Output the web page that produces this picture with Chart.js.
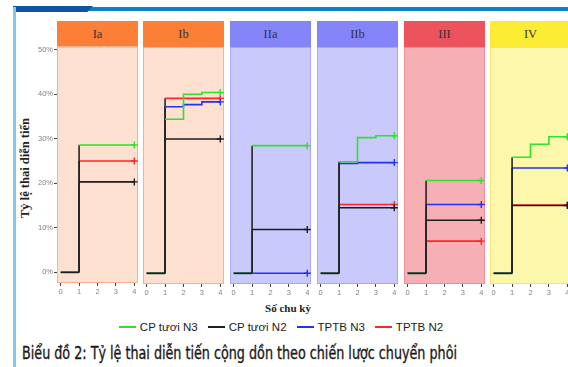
<!DOCTYPE html>
<html>
<head>
<meta charset="utf-8">
<script src="https://cdn.jsdelivr.net/npm/chart.js@4"></script>
<style>
  html,body{margin:0;padding:0;background:#fff;}
  #wrap{position:relative;width:568px;height:367px;overflow:hidden;background:#fff;}
  .abs{position:absolute;}
  .hdr{position:absolute;top:21px;height:26px;line-height:26px;text-align:center;font-family:"Liberation Serif","Times New Roman",serif;font-size:12.5px;color:#333;box-sizing:border-box;}
  canvas{position:absolute;}
  #legend{position:absolute;top:319px;left:0;width:562px;height:16px;display:flex;justify-content:center;align-items:center;font-family:"Liberation Sans",Arial,sans-serif;font-size:11.5px;color:#222;}
  #legend .it{display:flex;align-items:center;margin:0 5px;}
  #legend .ln{display:inline-block;width:17px;height:1.6px;margin-right:4px;}
  #cap{position:absolute;left:22px;top:342px;font-family:"DejaVu Sans Condensed","Liberation Sans Narrow","DejaVu Sans",sans-serif;font-size:18px;color:#1a1a1a;-webkit-text-stroke:0.35px #1a1a1a;white-space:nowrap;transform-origin:0 50%;}
</style>
</head>
<body>
<div id="wrap">
  <div class="abs" style="left:13px;top:7px;width:555px;height:4px;background:#0d80c6;"></div>
  <div class="abs" style="left:13px;top:6px;width:80px;height:6px;background:#0b55a3;clip-path:polygon(0 0,100% 0,93% 100%,0 100%);"></div>
  <div class="abs" style="left:13px;top:7px;width:2.5px;height:360px;background:#85c4ee;"></div>
  <div id="ytitle" class="abs" style="left:25px;top:168px;width:0;height:0;">
    <div style="position:absolute;transform:translate(-50%,-50%) rotate(-90deg);white-space:nowrap;font-family:'Liberation Serif','Times New Roman',serif;font-weight:bold;font-size:12.5px;color:#222;">Tỷ lệ thai diễn tiến</div>
  </div>
  <div class="abs" style="left:288px;top:308px;width:0;height:0;">
    <div style="position:absolute;transform:translate(-50%,-50%);white-space:nowrap;font-family:'Liberation Serif','Times New Roman',serif;font-weight:bold;font-size:11px;color:#222;">Số chu kỳ</div>
  </div>
  <div id="legend"></div>
  <div id="cap">Biểu đồ 2: Tỷ lệ thai diễn tiến cộng dồn theo chiến lược chuyển phôi</div>
</div>
<script>
// ---------- data ----------
const panels = ['Ia', 'Ib', 'IIa', 'IIb', 'III', 'IV'];
const cycles = [0, 1, 2, 3, 4];
const yTicks = [0, 10, 20, 30, 40, 50];
const seriesNames = ['CP tươi N3', 'CP tươi N2', 'TPTB N3', 'TPTB N2'];
// cumulative rate (%) after cycle 1, 2, 3 (held until cycle 4); null = not shown
const cpTuoiN3 = [[28.6, 28.6, 28.6], [34.5, 40.1, 40.5], [28.6, 28.6, 28.6], [25.0, 30.4, 30.8], [20.8, 20.8, 20.8], [26.0, 28.9, 30.6]];
const cpTuoiN2 = [[20.3, 20.3, 20.3], [30.1, 30.1, 30.1], [9.8, 9.8, 9.8], [14.7, 14.7, 14.7], [11.9, 11.9, 11.9], [15.2, 15.2, 15.2]];
const tptbN3 = [null, [37.3, 37.8, 38.4], [0, 0, 0], [24.6, 24.8, 24.8], [15.4, 15.4, 15.4], [23.6, 23.6, 23.6]];
const tptbN2 = [[25.0, 25.0, 25.0], [39.2, 39.2, 39.2], null, [15.4, 15.4, 15.4], [7.2, 7.2, 7.2], [15.3, 15.3, 15.3]];

// ---------- styles ----------
const lineColors = {'CP tươi N3': '#2fe22f', 'CP tươi N2': '#1e1e1e', 'TPTB N3': '#2233ee', 'TPTB N2': '#ff2626'};
const panelStyle = [
  {hdr: '#fc7f38', bg: '#fde0cf', bd: '#f9b28c'},
  {hdr: '#fc7f38', bg: '#fde0cf', bd: '#f9b28c'},
  {hdr: '#8585f9', bg: '#c9c9fb', bd: '#a8a8f9'},
  {hdr: '#8585f9', bg: '#c9c9fb', bd: '#a8a8f9'},
  {hdr: '#ed535d', bg: '#f6afb5', bd: '#f08d95'},
  {hdr: '#fdec36', bg: '#fdf7ab', bd: '#f6e670'}
];
const panelLeft = [57, 143, 230, 317, 404, 490];
const panelW = 81, plotTop = 47, plotH = 237, xAxisH = 16, yAxisW = 45;
const tickFont = {family: '"Liberation Sans", Arial, sans-serif', size: 7.5};

function stepPoints(levels) {
  const pts = [{x: cycles[0], y: 0}, {x: cycles[1], y: 0}];
  for (let k = 0; k < levels.length; k++) {
    pts.push({x: cycles[k + 1], y: levels[k]});
    pts.push({x: cycles[k + 2], y: levels[k]});
  }
  return pts;
}

const bgPlugin = {
  id: 'panelBg',
  beforeDraw(chart, args, opts) {
    const a = chart.chartArea, c = chart.ctx;
    c.save();
    c.fillStyle = opts.bg;
    c.fillRect(a.left, a.top, a.right - a.left, a.bottom - a.top);
    c.strokeStyle = opts.bd;
    c.lineWidth = 1;
    c.strokeRect(a.left + 0.5, a.top + 0.5, a.right - a.left - 1, a.bottom - a.top - 1);
    c.restore();
  }
};

function makeConfig(i) {
  const st = panelStyle[i];
  const src = [['CP tươi N2', cpTuoiN2[i]], ['CP tươi N3', cpTuoiN3[i]], ['TPTB N3', tptbN3[i]], ['TPTB N2', tptbN2[i]]];
  const datasets = src.filter(s => s[1]).map(([lab, lv]) => {
    const pts = stepPoints(lv);
    const col = lineColors[lab];
    return {
      label: lab,
      data: pts,
      borderColor: col,
      borderWidth: 1.6,
      tension: 0,
      fill: false,
      pointStyle: 'cross',
      pointRadius: ctx => ctx.dataIndex === pts.length - 1 ? 3.5 : 0,
      pointBorderColor: col,
      pointBorderWidth: 1.4,
      pointHoverRadius: 0,
      clip: false,
      segment: {
        borderColor: ctx => (ctx.p0.parsed.x === cycles[1] && ctx.p1.parsed.x === cycles[1]) ? '#262626' : undefined
      }
    };
  });
  return {
    type: 'line',
    data: {datasets},
    options: {
      responsive: false,
      maintainAspectRatio: false,
      animation: false,
      devicePixelRatio: 1,
      events: [],
      layout: {padding: 0, autoPadding: false},
      plugins: {legend: {display: false}, tooltip: {enabled: false}, title: {display: false}, panelBg: {bg: st.bg, bd: st.bd}},
      scales: {
        x: {
          type: 'linear', min: -0.2, max: 4.2,
          afterBuildTicks: ax => { ax.ticks = cycles.map(v => ({value: v})); },
          afterFit: ax => { ax.height = xAxisH; },
          grid: {drawOnChartArea: false, drawTicks: true, tickLength: 3, tickColor: '#444', lineWidth: 1},
          border: {display: false},
          ticks: {padding: 1, color: '#808080', font: tickFont, maxRotation: 0, autoSkip: false, callback: v => String(v)}
        },
        y: {
          display: i === 0,
          type: 'linear', min: -2.4, max: 50.7,
          afterBuildTicks: ax => { ax.ticks = yTicks.map(v => ({value: v})); },
          afterFit: ax => { ax.width = i === 0 ? yAxisW : 0; },
          grid: {drawOnChartArea: false, drawTicks: true, tickLength: 3, tickColor: '#444', lineWidth: 1},
          border: {display: false},
          ticks: {padding: 1, color: '#808080', font: tickFont, callback: v => v + '%'}
        }
      }
    },
    plugins: [bgPlugin]
  };
}

const wrap = document.getElementById('wrap');
panels.forEach((name, i) => {
  const h = document.createElement('div');
  h.className = 'hdr';
  h.style.left = panelLeft[i] + 'px';
  h.style.width = panelW + 'px';
  h.style.background = panelStyle[i].hdr;
  h.textContent = name;
  wrap.appendChild(h);

  const extraL = i === 0 ? yAxisW : 0;
  let cw = panelW + extraL, ch = plotH + xAxisH;
  let cv, chart;
  for (let k = 0; k < 5; k++) {
    if (chart) { chart.destroy(); cv.remove(); }
    cv = document.createElement('canvas');
    cv.width = cw; cv.height = ch;
    cv.style.width = cw + 'px'; cv.style.height = ch + 'px';
    wrap.appendChild(cv);
    chart = new Chart(cv, makeConfig(i));
    const a = chart.chartArea;
    const dw = panelW - Math.round(a.right - a.left);
    const dh = plotH - Math.round(a.bottom - a.top);
    if (dw === 0 && dh === 0) break;
    cw += dw; ch += dh;
  }
  const a = chart.chartArea;
  cv.style.left = (panelLeft[i] - Math.round(a.left)) + 'px';
  cv.style.top = (plotTop - Math.round(a.top)) + 'px';
});

// legend
const lg = document.getElementById('legend');
seriesNames.forEach(n => {
  const it = document.createElement('span');
  it.className = 'it';
  const ln = document.createElement('span');
  ln.className = 'ln';
  ln.style.background = lineColors[n];
  const tx = document.createElement('span');
  tx.textContent = n;
  it.appendChild(ln); it.appendChild(tx);
  lg.appendChild(it);
});

// caption condensed to width
const cap = document.getElementById('cap');
const w = cap.getBoundingClientRect().width;
cap.style.transform = 'scaleX(' + (435 / w) + ')';
</script>
</body>
</html>
